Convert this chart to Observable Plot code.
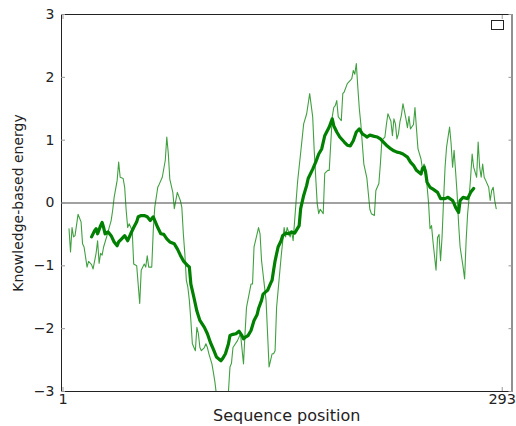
<!DOCTYPE html>
<html><head><meta charset="utf-8">
<script src="https://cdn.jsdelivr.net/npm/d3@7"></script>
<script src="https://cdn.jsdelivr.net/npm/@observablehq/plot@0.6"></script>
<style>
html,body{margin:0;padding:0;background:#fff;}
#chart{position:relative;width:516px;height:426px;}
#chart svg{display:block;}
#legend{position:absolute;left:491px;top:20px;width:11px;height:8px;border:1.5px solid #222;background:#fff;}
</style></head><body>
<div id="chart"></div>
<script>
// Raw (window-averaged) energy profile
const thinPos = [5,6,7,8,9,11,13,14,15,17,18,20,21,23,24,25,26,27,28,30,33,34,35,37,38,39,41,42,43,44,45,47,48,50,52,53,55,56,57,58,60,61,62,64,65,67,69,70,71,72,74,75,77,79,80,81,82,83,84,85,86,87,89,90,91,92,93,95,96,97,98,100,101,102,103,106,108,111,112,113,114,117,119,121,122,123,126,127,128,129,131,132,133,136,137,138,140,141,142,143,146,148,149,150,152,153,154,156,157,159,161,163,165,167,168,170,171,172,174,175,177,178,180,181,182,183,184,186,187,188,190,192,193,194,195,196,197,198,199,200,201,203,205,206,208,209,211,212,213,215,216,217,219,220,221,222,223,224,225,226,227,229,230,231,232,234,235,236,237,239,240,241,242,243,244,245,246,247,249,250,251,252,253,254,255,256,258,259,260,261,262,263,264,265,267,268,269,270,271,272,273,274,276,277,278,279,280,281,282,284,285,286,287,288,289];
const thinEnergy = [-0.41,-0.78,-0.39,-0.54,-0.52,-0.18,-0.30,-0.65,-0.70,-1.02,-0.93,-0.98,-1.05,-0.80,-0.60,-0.96,-0.80,-0.83,-0.70,-0.54,-0.28,-0.12,0.09,0.36,0.65,0.41,0.39,0.25,-0.12,-0.39,-0.33,-0.44,-0.97,-1.00,-1.60,-1.07,-0.97,-1.02,-0.84,-1.02,-1.02,-0.44,-0.07,0.25,0.30,0.41,0.68,1.05,0.79,0.38,0.17,-0.09,0.17,0.04,-0.07,-0.49,-0.81,-1.23,-1.34,-1.55,-1.87,-2.24,-2.35,-1.98,-2.08,-2.30,-2.35,-2.30,-2.24,-2.30,-2.40,-2.56,-2.70,-2.85,-3.05,-3.40,-3.40,-3.00,-2.61,-2.55,-2.30,-2.19,-2.08,-2.56,-2.08,-1.66,-1.29,-1.29,-0.70,-0.60,-0.39,-0.49,-0.92,-1.55,-2.08,-2.61,-2.40,-2.40,-2.35,-1.66,-0.86,-0.39,-0.54,-0.39,-0.54,-0.45,-0.60,0.04,0.35,0.80,1.26,1.42,1.74,1.37,0.84,-0.01,-0.17,-0.10,-0.17,0.47,0.52,0.52,1.37,1.52,1.55,1.63,1.37,1.31,1.74,1.77,1.90,1.95,1.98,2.11,2.05,2.22,1.84,1.50,1.26,0.94,0.62,0.40,-0.10,-0.17,-0.20,0.20,0.31,0.62,1.00,1.05,1.25,1.42,1.30,1.07,1.34,1.26,1.02,1.10,1.29,1.40,1.58,1.34,1.20,1.38,1.18,1.25,1.52,1.18,0.86,0.70,0.54,0.62,0.57,0.28,0.01,-0.41,-0.36,-0.62,-1.07,-0.55,-0.50,-0.92,-0.54,0.04,0.57,0.89,1.21,0.95,0.57,0.84,0.50,0.15,-0.33,-0.70,-1.02,-1.21,-0.60,-0.17,0.09,0.41,0.78,0.57,0.41,0.97,0.57,0.41,0.62,0.41,0.36,0.25,0.04,0.20,0.25,0.04,-0.09];
// Smoothed energy profile
const smoothPos = [20,22,23,24,26,27,28,29,31,33,35,37,38,40,42,44,46,48,50,51,53,55,57,59,61,64,66,68,70,72,75,77,79,81,84,85,86,88,90,92,95,97,99,101,103,106,107,109,111,112,114,116,118,120,121,122,124,126,128,130,131,133,134,137,139,140,141,142,144,146,147,149,151,153,155,158,159,161,163,164,167,169,171,173,175,178,180,181,183,185,188,190,192,194,196,198,200,202,203,205,208,210,212,214,216,219,221,223,225,227,230,232,234,236,239,240,241,242,243,245,247,250,252,253,255,257,260,261,262,264,265,267,270,272,274];
const smoothEnergy = [-0.54,-0.44,-0.41,-0.49,-0.36,-0.31,-0.39,-0.49,-0.46,-0.52,-0.62,-0.68,-0.62,-0.57,-0.52,-0.60,-0.49,-0.39,-0.30,-0.22,-0.20,-0.20,-0.22,-0.28,-0.22,-0.39,-0.49,-0.50,-0.57,-0.62,-0.65,-0.73,-0.83,-0.92,-1.00,-1.02,-1.29,-1.50,-1.72,-1.87,-1.98,-2.08,-2.22,-2.33,-2.45,-2.51,-2.48,-2.40,-2.24,-2.11,-2.09,-2.08,-2.04,-2.11,-2.16,-2.14,-2.11,-2.03,-1.87,-1.78,-1.68,-1.55,-1.45,-1.39,-1.28,-1.23,-1.07,-0.92,-0.70,-0.60,-0.52,-0.48,-0.49,-0.46,-0.48,-0.36,-0.09,0.12,0.28,0.39,0.54,0.65,0.78,0.86,1.07,1.21,1.34,1.23,1.13,1.05,0.97,0.92,0.91,0.99,1.13,1.18,1.10,1.07,1.05,1.08,1.06,1.05,1.02,0.97,0.92,0.86,0.83,0.81,0.80,0.78,0.73,0.65,0.60,0.52,0.46,0.55,0.57,0.50,0.33,0.25,0.22,0.17,0.07,0.07,0.07,0.09,0.04,-0.01,-0.07,-0.15,0.04,0.09,0.07,0.17,0.23];
const yTicks = [-3,-2,-1,0,1,2,3];
const xTicks = [1,293];
const xLabel = "Sequence position";
const yLabel = "Knowledge-based energy";

const thin = thinPos.map((p,i)=>({pos:p, e:thinEnergy[i]}));
const smooth = smoothPos.map((p,i)=>({pos:p, e:smoothEnergy[i]}));
const fmt = d => d < 0 ? "\u2212" + (-d) : String(d);
const blank = () => "";

const plot = Plot.plot({
  width: 516, height: 426,
  marginLeft: 61, marginRight: 4.5, marginTop: 14, marginBottom: 35,
  style: {fontFamily: "DejaVu Sans, sans-serif", fontSize: "14px", color: "#222", background: "#fff"},
  x: {domain: [0, 299.5]},
  y: {domain: [-3, 3]},
  marks: [
    Plot.ruleY([0], {stroke: "#444", strokeWidth: 1.1}),
    Plot.line(thin, {x: "pos", y: "e", stroke: "#008000", strokeWidth: 1.1, strokeOpacity: 0.75, clip: true}),
    Plot.line(smooth, {x: "pos", y: "e", stroke: "#008000", strokeWidth: 3.2, strokeLinejoin: "round"}),
    Plot.frame({stroke: "#222", strokeWidth: 1}),
    Plot.axisY(yTicks, {anchor: "left", tickSize: 0, tickPadding: 7, tickFormat: fmt, fontSize: 14, label: null}),
    Plot.axisY(yTicks, {anchor: "left", tickSize: 4, dx: 4, tickFormat: blank, stroke: "#999", label: null}),
    Plot.axisY(yTicks, {anchor: "right", tickSize: 4, dx: -4, tickFormat: blank, stroke: "#999", label: null}),
    Plot.axisX(xTicks, {anchor: "bottom", tickSize: 0, tickPadding: 2, tickFormat: d => String(d), fontSize: 14.5, label: null}),
    Plot.axisX(xTicks, {anchor: "bottom", tickSize: 4, dy: -4, tickFormat: blank, stroke: "#999", label: null}),
    Plot.axisX(xTicks, {anchor: "top", tickSize: 4, dy: 4, tickFormat: blank, stroke: "#999", label: null}),
    Plot.text([xLabel], {frameAnchor: "bottom", dy: 24.5, textAnchor: "middle", lineAnchor: "middle", fontSize: 16, fill: "#222"}),
    Plot.text([yLabel], {frameAnchor: "left", dx: -43, rotate: -90, textAnchor: "middle", lineAnchor: "middle", fontSize: 14, fill: "#222"})
  ]
});
const chart = document.getElementById("chart");
chart.appendChild(plot);
const legend = document.createElement("div");
legend.id = "legend";
chart.appendChild(legend);
</script>
</body></html>
